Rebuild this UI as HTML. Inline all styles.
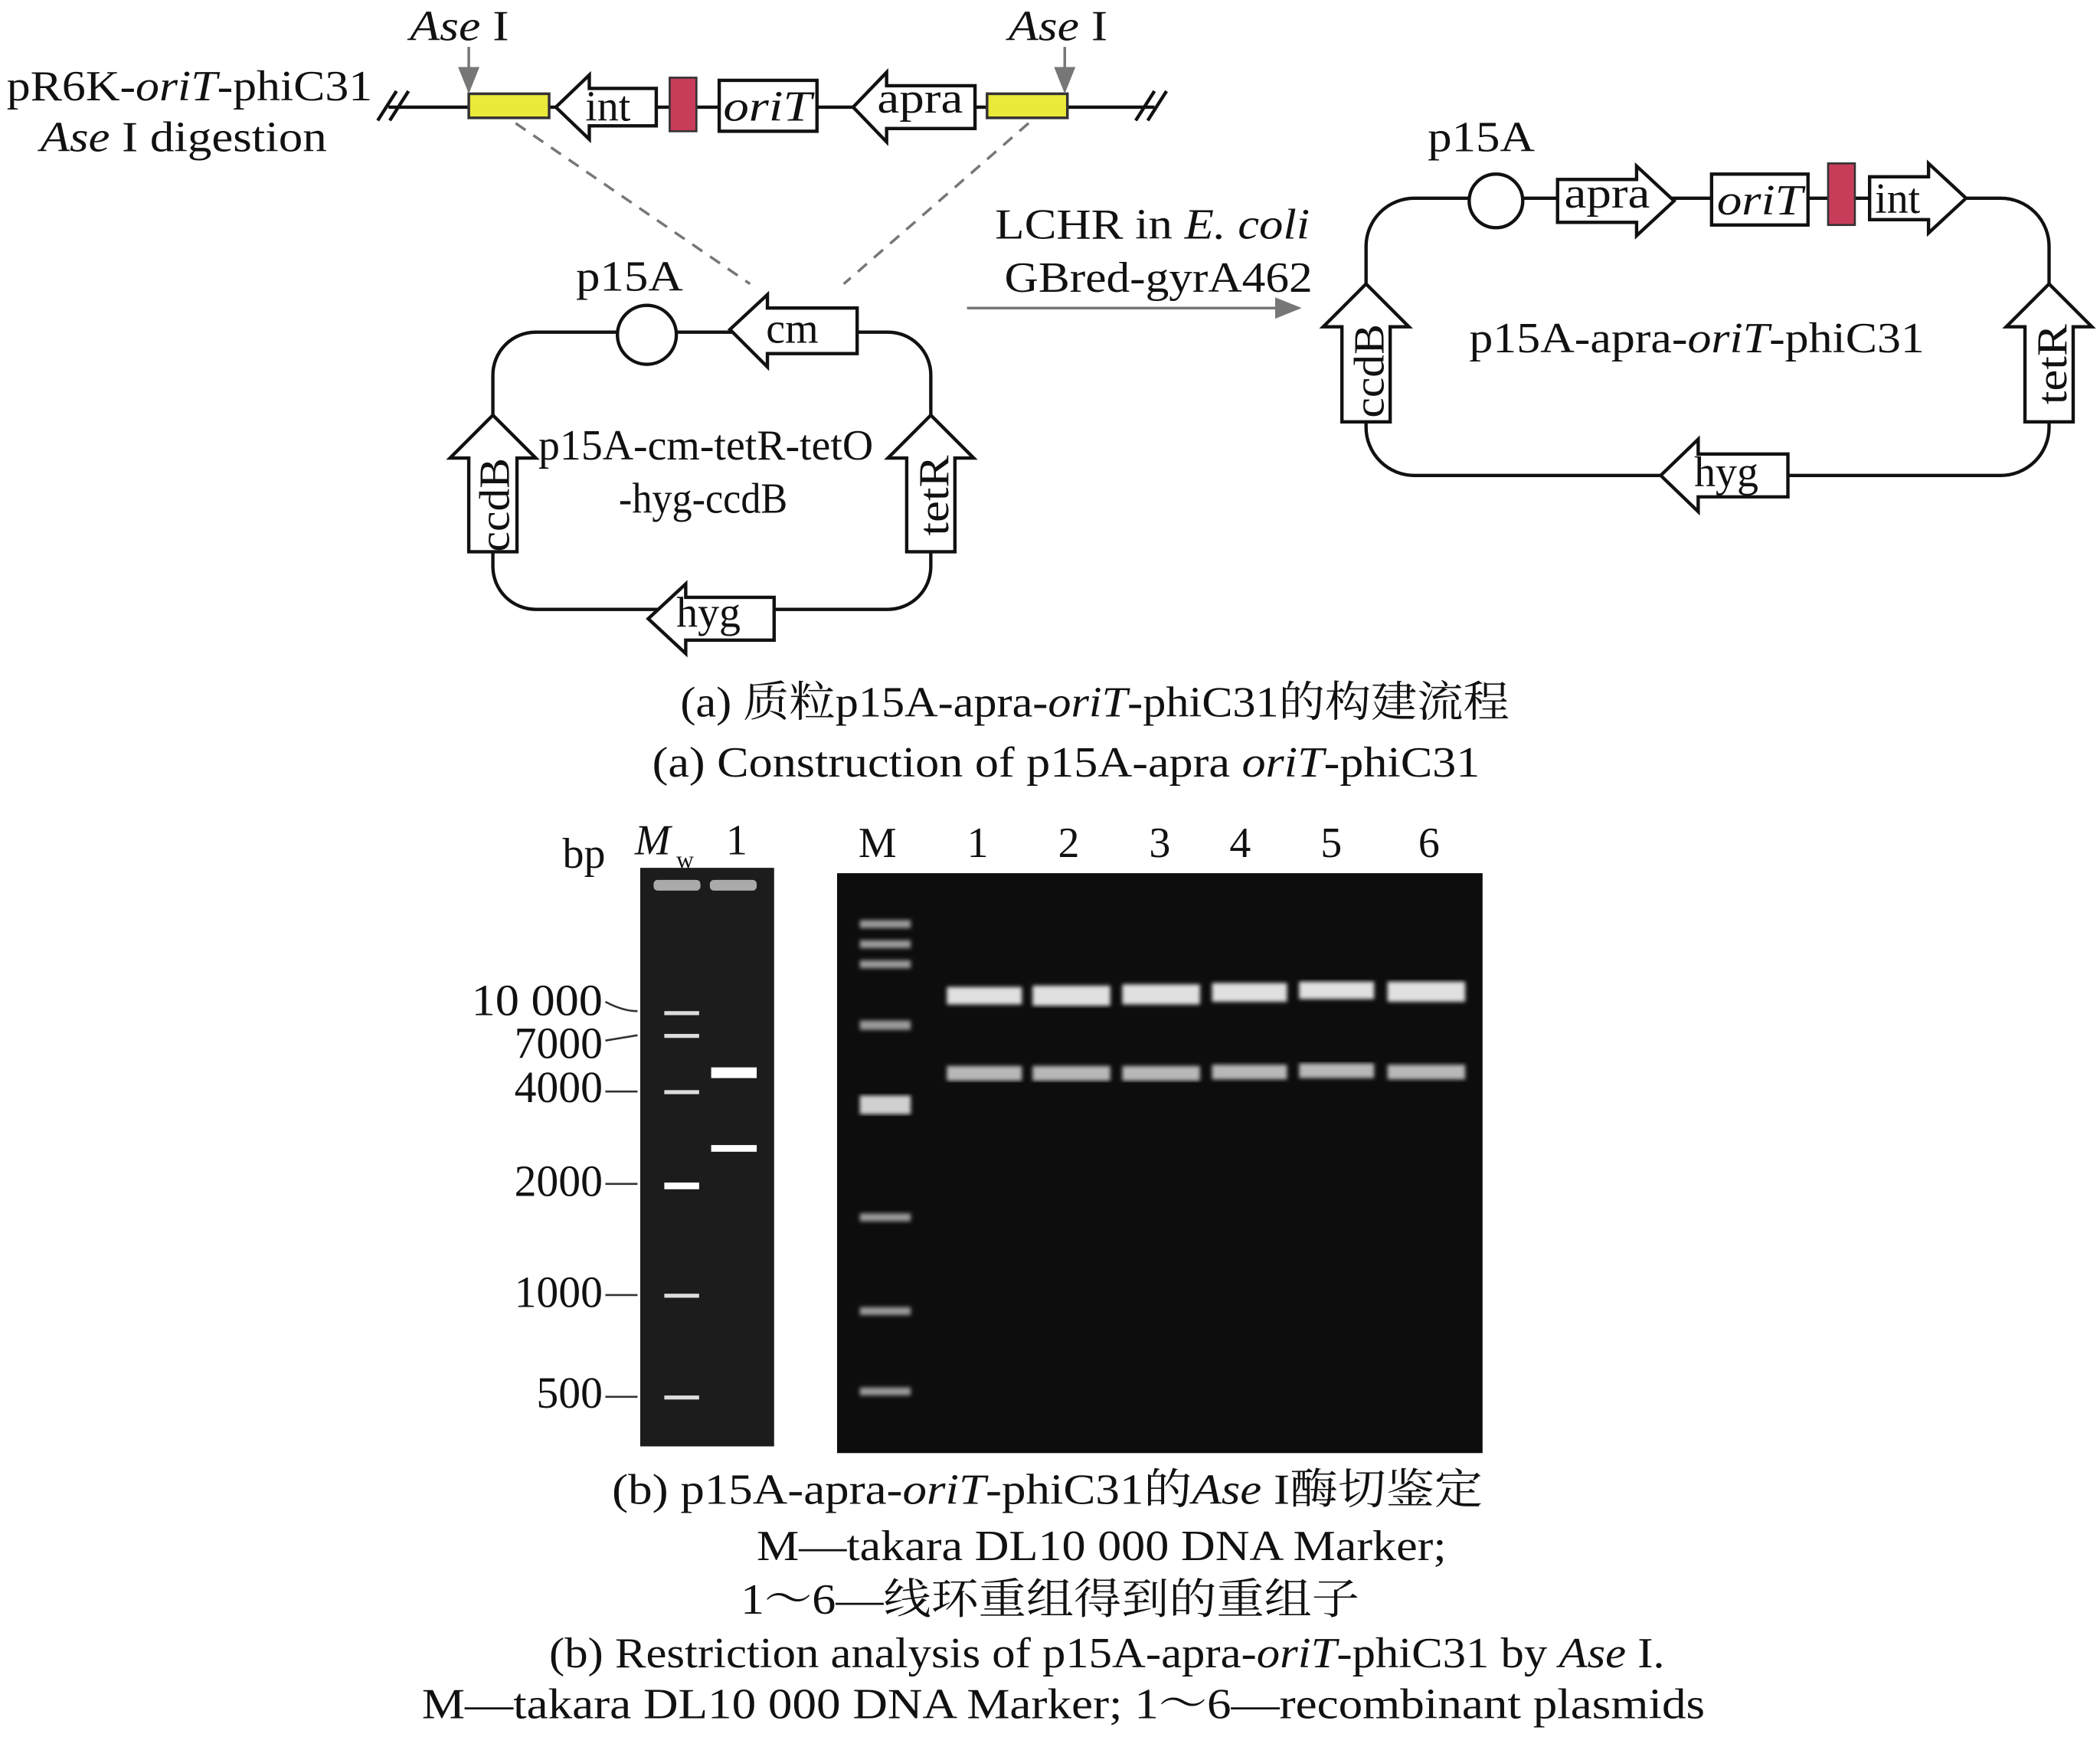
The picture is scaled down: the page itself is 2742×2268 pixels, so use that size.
<!DOCTYPE html>
<html><head><meta charset="utf-8"><style>
html,body{margin:0;padding:0;background:#fff}
svg{display:block}
text{font-family:"Liberation Serif","Noto Serif CJK SC",serif;fill:#111}
</style></head><body>
<svg width="2742" height="2268" viewBox="0 0 1568 1297" xmlns="http://www.w3.org/2000/svg">
<defs>
<marker id="ah" markerWidth="10" markerHeight="10" refX="9" refY="5" orient="auto"><path d="M0,1 L10,5 L0,9 z" fill="#777"/></marker>
<filter id="bl"><feGaussianBlur stdDeviation="1.5"/></filter>
</defs>
<g stroke="#111" stroke-width="2.5" fill="none">
<line x1="290" y1="80" x2="862" y2="80"/>
<line x1="282" y1="90" x2="296" y2="68"/><line x1="291" y1="90" x2="305" y2="68"/>
<line x1="848" y1="90" x2="862" y2="68"/><line x1="857" y1="90" x2="871" y2="68"/>
</g>
<rect x="350" y="70" width="60" height="18" fill="#eaea3a" stroke="#333" stroke-width="2"/>
<rect x="737" y="70" width="60" height="18" fill="#eaea3a" stroke="#333" stroke-width="2"/>
<line x1="350" y1="35" x2="350" y2="68" stroke="#777" stroke-width="2" marker-end="url(#ah)"/>
<line x1="795" y1="35" x2="795" y2="68" stroke="#777" stroke-width="2" marker-end="url(#ah)"/>
<path d="M415,80 L440,56 L440,66 L490,66 L490,94 L440,94 L440,104 Z" fill="#fff" stroke="#111" stroke-width="2.5"/>
<text x="437" y="90" font-size="32">int</text>
<rect x="500" y="58" width="20" height="40" fill="#c83c5a" stroke="#333" stroke-width="1.5"/>
<rect x="537" y="60" width="73" height="38" fill="#fff" stroke="#111" stroke-width="2.5"/>
<text x="540" y="90" font-size="32" font-style="italic" textLength="66" lengthAdjust="spacingAndGlyphs">oriT</text>
<path d="M637,80 L662,54 L662,64 L728,64 L728,96 L662,96 L662,106 Z" fill="#fff" stroke="#111" stroke-width="2.5"/>
<text x="655" y="84" font-size="32" textLength="64" lengthAdjust="spacingAndGlyphs">apra</text>
<text x="306" y="30" font-size="32" textLength="74" lengthAdjust="spacingAndGlyphs"><tspan font-style="italic">Ase</tspan> I</text>
<text x="753" y="30" font-size="32" textLength="74" lengthAdjust="spacingAndGlyphs"><tspan font-style="italic">Ase</tspan> I</text>
<text x="5" y="75" font-size="32" textLength="273" lengthAdjust="spacingAndGlyphs">pR6K-<tspan font-style="italic">oriT</tspan>-phiC31</text>
<text x="30" y="113" font-size="32" textLength="214" lengthAdjust="spacingAndGlyphs"><tspan font-style="italic">Ase</tspan> I digestion</text>
<line x1="385" y1="92" x2="560" y2="212" stroke="#777" stroke-width="2" stroke-dasharray="9,7"/>
<line x1="768" y1="92" x2="630" y2="212" stroke="#777" stroke-width="2" stroke-dasharray="9,7"/>
<rect x="368" y="248" width="327" height="207" rx="32" fill="none" stroke="#111" stroke-width="2.5"/>
<circle cx="483" cy="250" r="22" fill="#fff" stroke="#111" stroke-width="2.5"/>
<text x="430" y="217" font-size="32" textLength="80" lengthAdjust="spacingAndGlyphs">p15A</text>
<path d="M545,246 L573,220 L573,230 L640,230 L640,264 L573,264 L573,274 Z" fill="#fff" stroke="#111" stroke-width="2.5"/>
<text x="572" y="256" font-size="32">cm</text>
<path d="M368,310 L400,342 L386,342 L386,412 L350,412 L350,342 L336,342 Z" fill="#fff" stroke="#111" stroke-width="2.5"/>
<text transform="translate(380,412) rotate(-90)" font-size="32" textLength="70" lengthAdjust="spacingAndGlyphs">ccdB</text>
<path d="M695,310 L727,342 L713,342 L713,412 L677,412 L677,342 L663,342 Z" fill="#fff" stroke="#111" stroke-width="2.5"/>
<text transform="translate(708,400) rotate(-90)" font-size="32" textLength="60" lengthAdjust="spacingAndGlyphs">tetR</text>
<path d="M484,462 L512,436 L512,446 L578,446 L578,478 L512,478 L512,488 Z" fill="#fff" stroke="#111" stroke-width="2.5"/>
<text x="505" y="468" font-size="32">hyg</text>
<text x="402" y="343" font-size="32" textLength="250" lengthAdjust="spacingAndGlyphs">p15A-cm-tetR-tetO</text>
<text x="462" y="383" font-size="32" textLength="126" lengthAdjust="spacingAndGlyphs">-hyg-ccdB</text>
<line x1="722" y1="230" x2="970" y2="230" stroke="#777" stroke-width="2" marker-end="url(#ah)"/>
<text x="743" y="178" font-size="32" textLength="235" lengthAdjust="spacingAndGlyphs">LCHR in <tspan font-style="italic">E. coli</tspan></text>
<text x="750" y="218" font-size="32" textLength="230" lengthAdjust="spacingAndGlyphs">GBred-gyrA462</text>
<rect x="1020" y="148" width="510" height="207" rx="36" fill="none" stroke="#111" stroke-width="2.5"/>
<circle cx="1117" cy="150" r="20" fill="#fff" stroke="#111" stroke-width="2.5"/>
<text x="1066" y="113" font-size="32" textLength="80" lengthAdjust="spacingAndGlyphs">p15A</text>
<path d="M1250,150 L1222,124 L1222,134 L1163,134 L1163,166 L1222,166 L1222,176 Z" fill="#fff" stroke="#111" stroke-width="2.5"/>
<text x="1168" y="155" font-size="32" textLength="64" lengthAdjust="spacingAndGlyphs">apra</text>
<rect x="1278" y="130" width="72" height="38" fill="#fff" stroke="#111" stroke-width="2.5"/>
<text x="1282" y="160" font-size="32" font-style="italic" textLength="64" lengthAdjust="spacingAndGlyphs">oriT</text>
<rect x="1365" y="122" width="20" height="46" fill="#c83c5a" stroke="#333" stroke-width="1.5"/>
<path d="M1468,148 L1440,122 L1440,132 L1396,132 L1396,164 L1440,164 L1440,174 Z" fill="#fff" stroke="#111" stroke-width="2.5"/>
<text x="1400" y="159" font-size="32">int</text>
<path d="M1020,212 L1052,244 L1038,244 L1038,315 L1002,315 L1002,244 L988,244 Z" fill="#fff" stroke="#111" stroke-width="2.5"/>
<text transform="translate(1033,312) rotate(-90)" font-size="32" textLength="70" lengthAdjust="spacingAndGlyphs">ccdB</text>
<path d="M1530,212 L1562,244 L1548,244 L1548,315 L1512,315 L1512,244 L1498,244 Z" fill="#fff" stroke="#111" stroke-width="2.5"/>
<text transform="translate(1543,302) rotate(-90)" font-size="32" textLength="60" lengthAdjust="spacingAndGlyphs">tetR</text>
<path d="M1240,355 L1268,328 L1268,339 L1335,339 L1335,371 L1268,371 L1268,382 Z" fill="#fff" stroke="#111" stroke-width="2.5"/>
<text x="1265" y="363" font-size="32">hyg</text>
<text x="1097" y="263" font-size="32" textLength="340" lengthAdjust="spacingAndGlyphs">p15A-apra-<tspan font-style="italic">oriT</tspan>-phiC31</text>
<text x="508" y="535" font-size="32" textLength="619" lengthAdjust="spacingAndGlyphs">(a) 质粒p15A-apra-<tspan font-style="italic">oriT</tspan>-phiC31的构建流程</text>
<text x="487" y="580" font-size="32" textLength="618" lengthAdjust="spacingAndGlyphs">(a) Construction of p15A-apra <tspan font-style="italic">oriT</tspan>-phiC31</text>
<text x="420" y="648" font-size="32">bp</text>
<text x="474" y="638" font-size="32" font-style="italic">M</text><text x="505" y="648" font-size="18">w</text>
<text x="542" y="638" font-size="32">1</text>
<text x="641" y="640" font-size="32">M</text>
<g font-size="32" text-anchor="middle">
<text x="730" y="640">1</text><text x="798" y="640">2</text><text x="866" y="640">3</text><text x="926" y="640">4</text><text x="994" y="640">5</text><text x="1067" y="640">6</text>
</g>
<rect x="478" y="648" width="100" height="432" fill="#1c1c1c"/>
<rect x="488" y="657" width="35" height="8" rx="3" fill="#aaa"/>
<rect x="530" y="657" width="35" height="8" rx="3" fill="#aaa"/>
<g fill="#ddd">
<rect x="496" y="755" width="26" height="3"/><rect x="496" y="772" width="26" height="3"/><rect x="496" y="814" width="26" height="3"/>
<rect x="496" y="966" width="26" height="3"/><rect x="496" y="1042" width="26" height="3"/>
</g>
<rect x="496" y="883" width="26" height="5" fill="#fff"/>
<rect x="531" y="797" width="34" height="8" fill="#fff"/>
<rect x="531" y="855" width="34" height="5" fill="#fff"/>
<g font-size="33" text-anchor="end">
<text x="450" y="758" textLength="98" lengthAdjust="spacingAndGlyphs">10 000</text><text x="450" y="790">7000</text><text x="450" y="823">4000</text>
<text x="450" y="893">2000</text><text x="450" y="976">1000</text><text x="450" y="1051">500</text>
</g>
<g stroke="#333" stroke-width="1.5" fill="none">
<path d="M452,748 Q465,755 476,755"/><path d="M452,777 L476,773"/><line x1="452" y1="815" x2="476" y2="815"/>
<line x1="452" y1="884" x2="476" y2="884"/><line x1="452" y1="967" x2="476" y2="967"/><line x1="452" y1="1043" x2="476" y2="1043"/>
</g>
<rect x="625" y="652" width="482" height="433" fill="#0d0d0d"/>
<g fill="#9a9a9a" filter="url(#bl)">
<rect x="642" y="687" width="38" height="6"/><rect x="642" y="702" width="38" height="6"/><rect x="642" y="717" width="38" height="6"/>
<rect x="642" y="762" width="38" height="7"/><rect x="642" y="906" width="38" height="6"/><rect x="642" y="976" width="38" height="6"/><rect x="642" y="1036" width="38" height="6"/>
</g>
<rect x="642" y="818" width="38" height="14" fill="#d0d0d0" filter="url(#bl)"/>
<g fill="#e0e0e0" filter="url(#bl)">
<rect x="707" y="737" width="56" height="13"/><rect x="771" y="736" width="58" height="15"/><rect x="838" y="735" width="58" height="15"/>
<rect x="905" y="734" width="56" height="14"/><rect x="970" y="733" width="56" height="13"/><rect x="1036" y="733" width="58" height="15"/>
</g>
<g fill="#b8b8b8" filter="url(#bl)">
<rect x="707" y="796" width="56" height="11"/><rect x="771" y="796" width="58" height="11"/><rect x="838" y="796" width="58" height="11"/>
<rect x="905" y="795" width="56" height="11"/><rect x="970" y="794" width="56" height="11"/><rect x="1036" y="795" width="58" height="11"/>
</g>
<g font-size="32">
<text x="457" y="1123" textLength="650" lengthAdjust="spacingAndGlyphs">(b) p15A-apra-<tspan font-style="italic">oriT</tspan>-phiC31的<tspan font-style="italic">Ase</tspan> I酶切鉴定</text>
<text x="565" y="1165" textLength="515" lengthAdjust="spacingAndGlyphs">M—takara DL10 000 DNA Marker;</text>
<text x="553" y="1205" textLength="462" lengthAdjust="spacingAndGlyphs">1～6—线环重组得到的重组子</text>
<text x="410" y="1245" textLength="833" lengthAdjust="spacingAndGlyphs">(b) Restriction analysis of  p15A-apra-<tspan font-style="italic">oriT</tspan>-phiC31 by <tspan font-style="italic">Ase</tspan> I.</text>
<text x="315" y="1283" textLength="958" lengthAdjust="spacingAndGlyphs">M—takara DL10 000 DNA Marker;  1～6—recombinant plasmids</text>
</g>
</svg>
</body></html>
